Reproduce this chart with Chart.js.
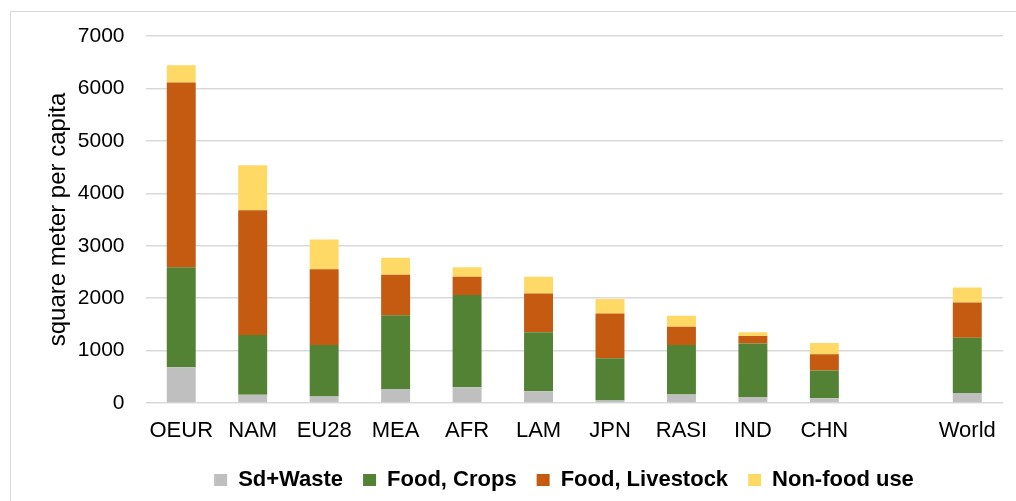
<!DOCTYPE html>
<html>
<head>
<meta charset="utf-8">
<script src="https://cdn.jsdelivr.net/npm/chart.js@4"></script>
<style>
  html, body { margin: 0; padding: 0; background: #fff; }
  #wrap { position: relative; width: 1016px; height: 501px; }
  #frame { position: absolute; left: 10px; top: 11px; right: -2px; bottom: -2px;
           border-left: 1px solid #d9d9d9; border-top: 1px solid #d9d9d9; }
  canvas { position: absolute; left: 0; top: 0; }
</style>
</head>
<body>
<div id="wrap">
  <div id="frame"></div>
  <canvas id="chartLand" width="1016" height="501"></canvas>
</div>
<script>
// regions (empty slot before World as in the original sheet)
const regiones = ['OEUR', 'NAM', 'EU28', 'MEA', 'AFR', 'LAM', 'JPN', 'RASI', 'IND', 'CHN', '', 'World'];

// square meter per capita
const sdWaste   = [680, 155, 125, 265, 300, 225, 50, 160, 115, 90, null, 190];
const foodCrops = [1910, 1140, 980, 1410, 1760, 1125, 805, 945, 1020, 530, null, 1055];
const foodLive  = [3525, 2380, 1445, 770, 350, 740, 850, 350, 145, 310, null, 670];
const nonFood   = [325, 860, 570, 325, 180, 320, 280, 210, 70, 215, null, 290];

const yTicks = [0, 1000, 2000, 3000, 4000, 5000, 6000, 7000];

const FONT = 'Liberation Sans, Arial, sans-serif';

function serie(label, data, color) {
    return {
        label: label,
        data: data,
        backgroundColor: color,
        borderWidth: 0,
        categoryPercentage: 1,
        barPercentage: 0.405
    };
}

// legend sits a bit right of the canvas centre in the original
const legendShift = {
    id: 'legendShift',
    afterLayout(chart) { chart.legend.left += 84; }
};

const ctx = document.getElementById('chartLand');
new Chart(ctx, {
    type: 'bar',
    data: {
        labels: regiones,
        datasets: [
            serie('Sd+Waste', sdWaste, '#bfbfbf'),
            serie('Food, Crops', foodCrops, '#548235'),
            serie('Food, Livestock', foodLive, '#c55a11'),
            serie('Non-food use', nonFood, '#ffd966')
        ]
    },
    plugins: [legendShift],
    options: {
        responsive: false,
        animation: false,
        layout: { padding: { left: 41, right: 13, top: 36, bottom: 0 } },
        plugins: {
            tooltip: { enabled: false },
            legend: {
                position: 'bottom',
                labels: {
                    boxWidth: 13,
                    boxHeight: 12,
                    padding: 20,
                    color: '#000',
                    font: { family: FONT, size: 22, weight: 'bold' }
                }
            }
        },
        scales: {
            x: {
                stacked: true,
                grid: { display: false },
                border: { display: false },
                afterFit: axis => { axis.height = 46; },
                ticks: {
                    color: '#000',
                    padding: 7,
                    maxRotation: 0,
                    autoSkip: false,
                    font: { family: FONT, size: 22 }
                }
            },
            y: {
                stacked: true,
                min: yTicks[0],
                max: yTicks[yTicks.length - 1],
                afterBuildTicks: axis => { axis.ticks = yTicks.map(v => ({ value: v })); },
                afterFit: axis => { axis.width -= 21; },
                grid: { color: '#d9d9d9', lineWidth: 1.5, drawTicks: false },
                border: { display: false },
                ticks: {
                    color: '#000',
                    padding: 21,
                    font: { family: FONT, size: 21 },
                    callback: v => String(v)
                },
                title: {
                    display: true,
                    text: 'square meter per capita',
                    color: '#000',
                    padding: { top: 3, bottom: 5 },
                    font: { family: FONT, size: 24 }
                }
            }
        }
    }
});
</script>
</body>
</html>
